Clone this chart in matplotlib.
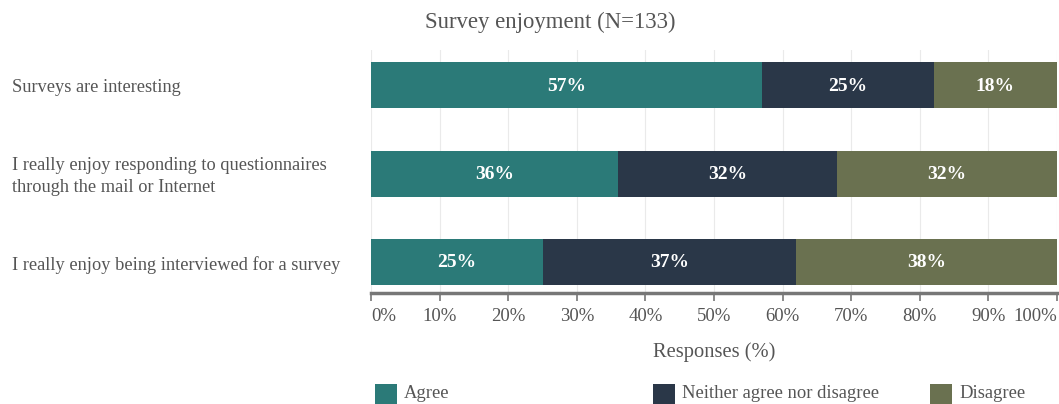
import numpy as np
import matplotlib.pyplot as plt

statements = [
    "Surveys are interesting",
    "I really enjoy responding to questionnaires\nthrough the mail or Internet",
    "I really enjoy being interviewed for a survey",
]
categories = ["Agree", "Neither agree nor disagree", "Disagree"]
agree = [57, 36, 25]
neither = [25, 32, 37]
disagree = [18, 32, 38]
colors = ["#2b7a78", "#2a3748", "#6a7150"]

plt.rcParams["font.family"] = ["Liberation Serif", "DejaVu Serif"]
text_gray = "#555555"

fig = plt.figure(figsize=(10.59, 4.04), dpi=100)
ax = fig.add_axes([371 / 1059, 1 - 293 / 404, 686 / 1059, 243 / 404])

y = np.arange(len(statements))
left = np.zeros(len(statements))
for vals, col in zip([agree, neither, disagree], colors):
    vals = np.array(vals, dtype=float)
    ax.barh(y, vals, left=left, height=0.52, color=col, zorder=2)
    for yi, l, v in zip(y, left, vals):
        ax.text(l + v / 2, yi + 0.01, f"{v:.0f}%", ha="center", va="center",
                color="white", fontsize=14, fontweight="bold", zorder=3)
    left += vals

ax.set_xlim(0, 100)
ax.set_ylim(2.35, -0.4)
ax.set_xticks(np.arange(0, 101, 10))
ax.set_xticklabels([f"{t}%" for t in range(0, 101, 10)])
ticklabels = ax.get_xticklabels()
ticklabels[0].set_horizontalalignment("left")
ticklabels[-1].set_horizontalalignment("right")
ax.grid(axis="x", color="#eaeaea", linewidth=0.8, zorder=0)
ax.set_yticks(y)
ax.set_yticklabels([])
ax.tick_params(axis="y", length=0)
ax.tick_params(axis="x", direction="out", length=6, width=1.2, color="#777777",
               labelsize=13.5, labelcolor=text_gray, pad=5)
for s in ["top", "right", "left"]:
    ax.spines[s].set_visible(False)
ax.spines["bottom"].set_color("#777777")
ax.spines["bottom"].set_linewidth(2.5)

# statement labels sit flush with the left edge of the figure
for yi, s in zip(y, statements):
    ax.text(-359 / 686 * 100, yi + 0.03, s, ha="left", va="center",
            fontsize=13.2, color=text_gray, linespacing=1.35, clip_on=False)

ax.set_xlabel("Responses (%)", fontsize=14.8, color=text_gray, labelpad=12)
fig.text(550 / 1059, 1 - 22 / 404, "Survey enjoyment (N=133)", ha="center",
         va="center", fontsize=16.4, color=text_gray)

xs = [375, 653, 930]
for x, c, lab in zip(xs, colors, categories):
    fig.patches.append(plt.Rectangle((x / 1059, 0), 22 / 1059, 20 / 404,
                                     transform=fig.transFigure, facecolor=c))
    fig.text((x + 29) / 1059, 1 - 394 / 404, lab, ha="left", va="center",
             fontsize=13.4, color=text_gray)

fig.savefig("out.png", dpi=100)
